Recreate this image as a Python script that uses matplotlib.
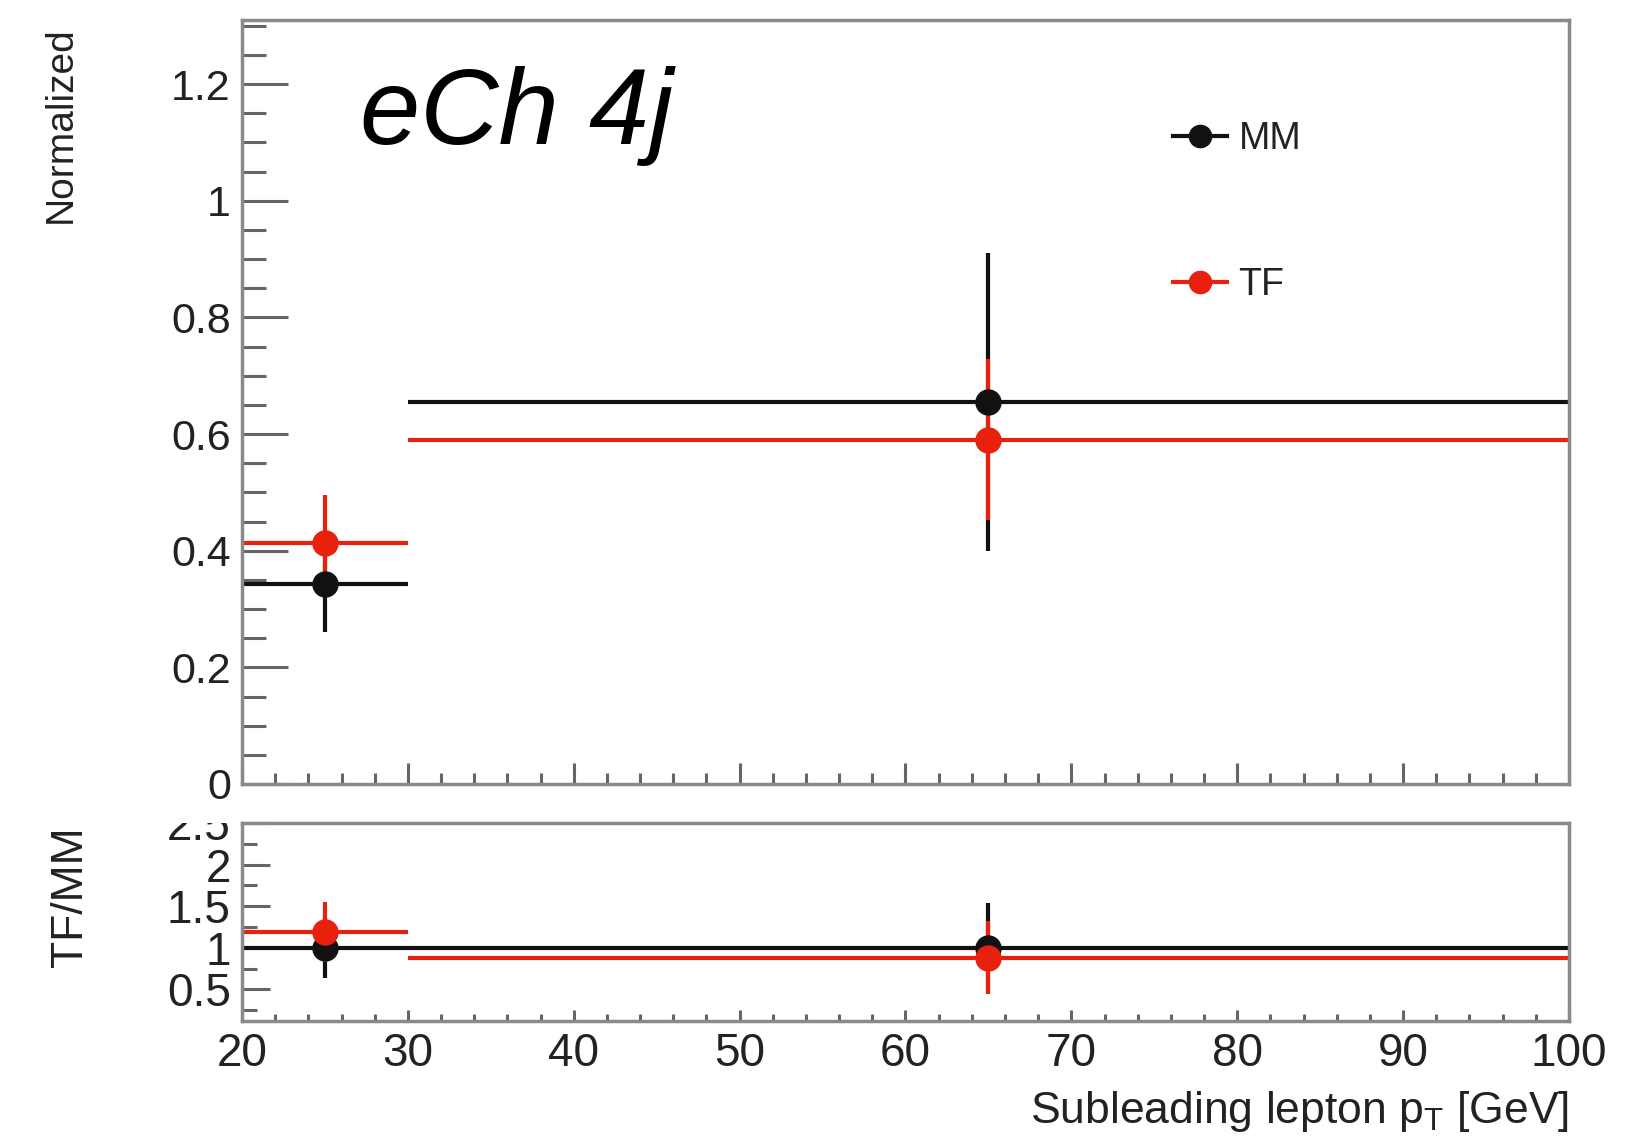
import numpy as np
import matplotlib
matplotlib.use('Agg')
import matplotlib.pyplot as plt
from matplotlib.lines import Line2D
from matplotlib.transforms import Bbox, TransformedBbox
from matplotlib.ticker import MultipleLocator

plt.rcParams['font.family'] = ['Liberation Sans', 'DejaVu Sans']
plt.rcParams['mathtext.fontset'] = 'custom'
plt.rcParams['mathtext.rm'] = 'Liberation Sans'

# binning in subleading lepton pT
bin_edges = [20, 30, 100]

# normalized distributions
mm_norm = [0.343, 0.655]
mm_err = [0.083, 0.255]
tf_norm = [0.413, 0.590]
tf_err = [0.083, 0.138]

# ratio TF/MM (MM/MM in black)
ratio_mm = [1.0, 1.0]
ratio_mm_err = [0.36, 0.54]
ratio_tf = [1.19, 0.88]
ratio_tf_err = [0.36, 0.44]

edges = np.array(bin_edges, dtype=float)
centers = 0.5 * (edges[1:] + edges[:-1])
half_w = 0.5 * (edges[1:] - edges[:-1])

RED = '#e8200e'
BLACK = '#111111'
GREY = '#8a8a8a'
TXT = '#222222'

fig = plt.figure(figsize=(16.35, 11.42), dpi=100)
ax = fig.add_axes([0.148, 0.3135, 0.8116, 0.669])
rax = fig.add_axes([0.148, 0.106, 0.8116, 0.1734])

def style(a, ymaj, ymin, ylen, xlen, ysize):
    for s in a.spines.values():
        s.set_color(GREY)
        s.set_linewidth(2.5)
    a.xaxis.set_major_locator(MultipleLocator(10))
    a.xaxis.set_minor_locator(MultipleLocator(2))
    a.yaxis.set_major_locator(MultipleLocator(ymaj))
    a.yaxis.set_minor_locator(MultipleLocator(ymin))
    a.tick_params(axis='y', which='major', direction='in', length=ylen[0], width=2.2,
                  color='#666666', pad=8, labelsize=ysize, labelcolor=TXT, right=False)
    a.tick_params(axis='y', which='minor', direction='in', length=ylen[1], width=2.2,
                  color='#666666', right=False)
    a.tick_params(axis='x', which='major', direction='in', length=xlen[0], width=2.2,
                  color='#666666', pad=8, labelsize=33, labelcolor=TXT, top=False)
    a.tick_params(axis='x', which='minor', direction='in', length=xlen[1], width=2.2,
                  color='#666666', top=False)

# upper panel: normalized shapes
ax.errorbar(centers, mm_norm, xerr=half_w, yerr=mm_err, fmt='o', color=BLACK,
            ms=18, elinewidth=3, capsize=0)
ax.errorbar(centers, tf_norm, xerr=half_w, yerr=tf_err, fmt='o', color=RED,
            ms=18, elinewidth=3, capsize=0)
ax.set_xlim(20, 100)
ax.set_ylim(0, 1.31)
style(ax, 0.2, 0.05, (33, 17), (15, 8), 31)
ax.set_yticks([0, 0.2, 0.4, 0.6, 0.8, 1.0, 1.2])
ax.set_yticklabels(['0', '0.2', '0.4', '0.6', '0.8', '1', '1.2'])
ax.tick_params(axis='x', labelbottom=False)

ax.text(0.089, 0.838, 'eCh 4j', transform=ax.transAxes, fontsize=78,
        style='italic', color='black', va='baseline', ha='left')

handles = [Line2D([], [], color=BLACK, marker='o', ms=16, lw=3),
           Line2D([], [], color=RED, marker='o', ms=16, lw=3)]
ax.legend(handles, ['MM', 'TF'], loc='upper left', bbox_to_anchor=(0.7016, 0.868),
          frameon=False, fontsize=27, handlelength=1.45, handletextpad=0.3,
          labelspacing=2.95, borderpad=0, borderaxespad=0, labelcolor=TXT)

fig.text(0.037, 0.977, 'Normalized', rotation=90, fontsize=28, color=TXT,
         ha='center', va='top')

# lower panel: ratio
rax.errorbar(centers, ratio_mm, xerr=half_w, yerr=ratio_mm_err, fmt='o', color=BLACK,
             ms=18, elinewidth=3, capsize=0)
rax.errorbar(centers, ratio_tf, xerr=half_w, yerr=ratio_tf_err, fmt='o', color=RED,
             ms=18, elinewidth=3, capsize=0)
rax.set_xlim(20, 100)
rax.set_ylim(0.12, 2.5)
style(rax, 0.5, 0.25, (20, 11), (8, 5), 33)
rax.set_yticks([0.5, 1.0, 1.5, 2.0, 2.5])
rax.set_yticklabels(['0.5', '1', '1.5', '2', '2.5'])
rax.set_xticks(np.arange(20, 101, 10))
rax.set_ylabel('TF/MM', fontsize=32, color=TXT)
rax.yaxis.set_label_coords(-0.114, 0.63)
rax.set_xlabel('Subleading lepton p$_{\\mathregular{T}}$ [GeV]', fontsize=32,
               color=TXT, ha='right', x=1.0, labelpad=9)

# clip the top ratio label at the panel edge
clip = TransformedBbox(Bbox([[0.0, 0.0], [1.0, 0.2793]]), fig.transFigure)
for lab in rax.get_yticklabels():
    lab.set_clip_box(clip)
    lab.set_clip_on(True)

fig.savefig('out.png', dpi=100, facecolor='white')
